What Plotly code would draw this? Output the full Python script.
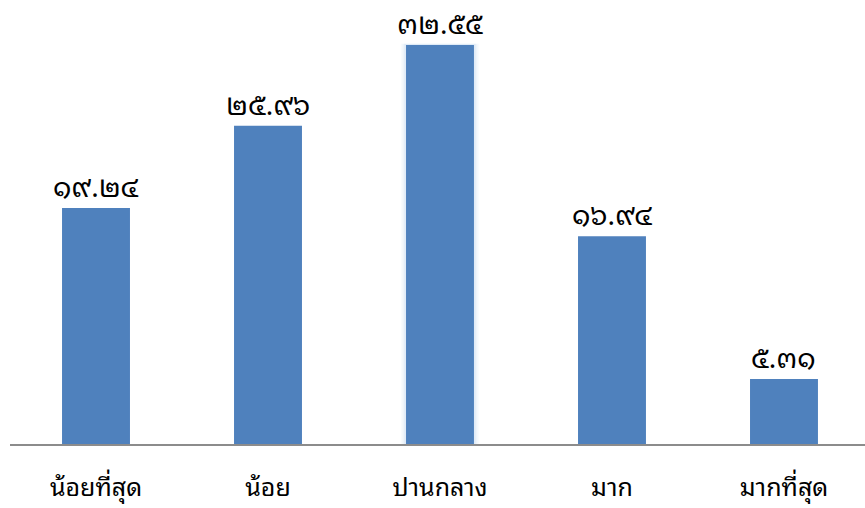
import plotly.graph_objects as go

# Survey response levels and their percentages
categories = ["น้อยที่สุด", "น้อย", "ปานกลาง", "มาก", "มากที่สุด"]
values = [19.24, 25.96, 32.55, 16.94, 5.31]

THAI_DIGITS = str.maketrans("0123456789", "๐๑๒๓๔๕๖๗๘๙")


def thai_number(v):
    return f"{v:.2f}".translate(THAI_DIGITS)


labels = [thai_number(v) for v in values]

BAR_COLOR = "#4F81BD"
FONT = "Noto Sans Thai Looped, Noto Sans Thai, sans-serif"

fig = go.Figure()

# soft glow around the highlighted (middle) bar
hi = values.index(max(values))
for w, op in [(0.455, 0.08), (0.435, 0.12), (0.415, 0.2)]:
    fig.add_trace(go.Bar(
        x=[categories[hi]], y=[values[hi] + 0.1], width=w,
        marker=dict(color="#A9C6EA", line=dict(width=0)),
        opacity=op, hoverinfo="skip", showlegend=False,
    ))

fig.add_trace(go.Bar(
    x=categories, y=values, width=0.395,
    marker=dict(color=BAR_COLOR, line=dict(width=0)),
    showlegend=False,
))

for c, v, t in zip(categories, values, labels):
    fig.add_annotation(
        x=c, y=v, text=t, showarrow=False,
        yanchor="bottom", yshift=0, borderpad=0,
        font=dict(family=FONT, size=28, color="#000000"),
    )

fig.update_layout(
    width=865, height=508,
    margin=dict(l=10, r=0, t=10, b=64),
    paper_bgcolor="white", plot_bgcolor="white",
    barmode="overlay",
    xaxis=dict(
        categoryorder="array", categoryarray=categories,
        range=[-0.5, 4.471],
        showline=True, linecolor="#8C8C8C", linewidth=2,
        showgrid=False, zeroline=False, ticks="",
        ticklabelstandoff=20,
        tickfont=dict(family=FONT, size=25, color="#000000"),
    ),
    yaxis=dict(
        range=[0, 35.4], visible=False, showgrid=False, zeroline=False,
    ),
)

fig.write_html("out.html")
